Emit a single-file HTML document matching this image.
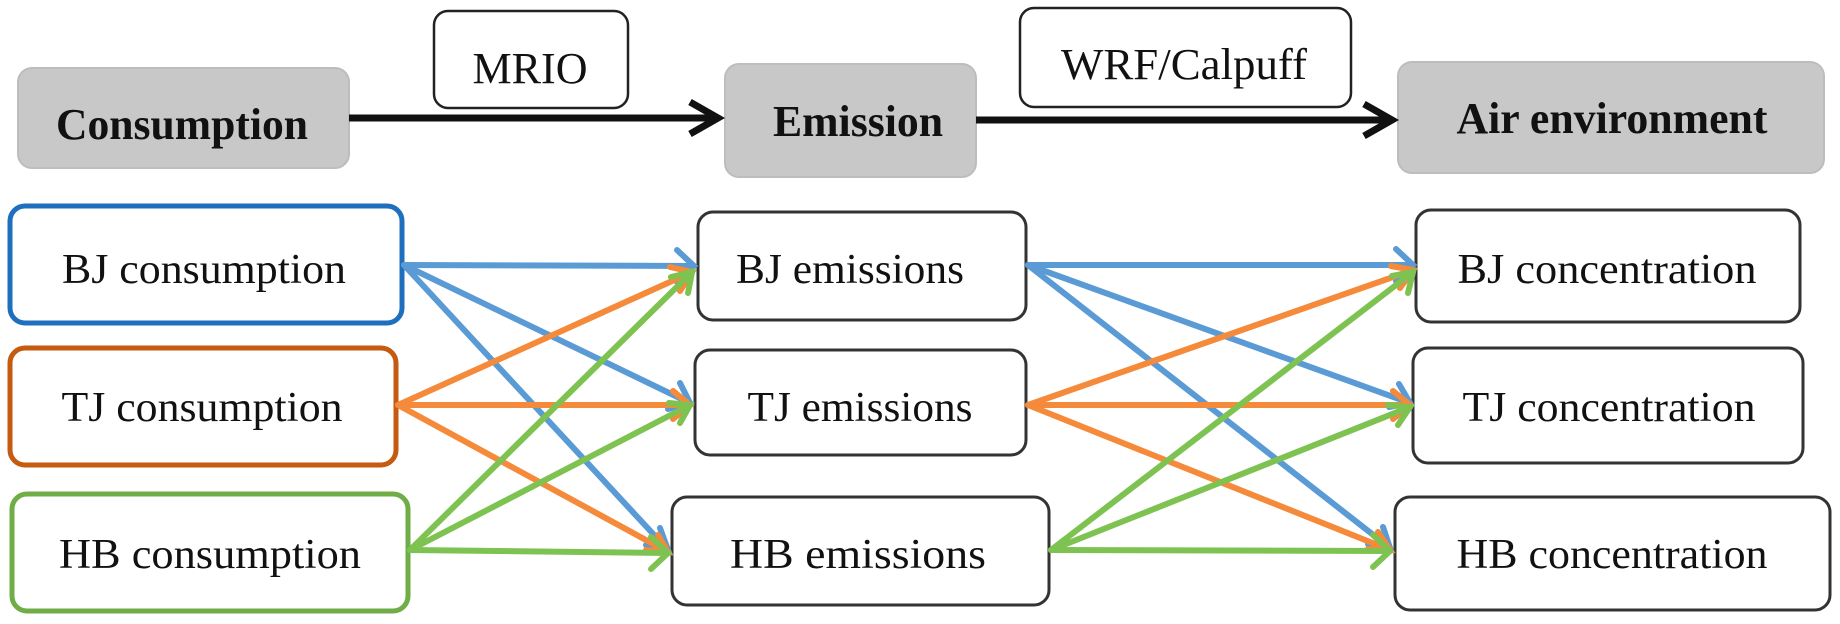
<!DOCTYPE html>
<html><head><style>
body{margin:0;background:#fff;}
svg text{font-family:"Liberation Serif",serif;}
</style></head><body>
<svg width="1840" height="619" viewBox="0 0 1840 619" xmlns="http://www.w3.org/2000/svg">
<g fill="#c8c8c8" stroke="#bdbdbd" stroke-width="2">
<rect x="18" y="68" width="331" height="100" rx="14"/>
<rect x="725" y="64" width="251" height="113" rx="14"/>
<rect x="1398" y="62" width="426" height="111" rx="14"/>
</g>
<g font-weight="bold" font-size="44" text-anchor="middle" fill="#111">
<text x="182" y="139" textLength="252" lengthAdjust="spacingAndGlyphs">Consumption</text>
<text x="858" y="136" textLength="170" lengthAdjust="spacingAndGlyphs">Emission</text>
<text x="1612" y="133" textLength="311" lengthAdjust="spacingAndGlyphs">Air environment</text>
</g>
<g fill="#fff" stroke="#222" stroke-width="2.5">
<rect x="434" y="11" width="194" height="97" rx="14"/>
<rect x="1020" y="8" width="331" height="99" rx="14"/>
</g>
<g font-size="44" text-anchor="middle" fill="#111">
<text x="530" y="83" textLength="115" lengthAdjust="spacingAndGlyphs">MRIO</text>
<text x="1184" y="79" textLength="246" lengthAdjust="spacingAndGlyphs">WRF/Calpuff</text>
</g>
<g stroke="#111" stroke-width="7" fill="none">
<line x1="349" y1="118" x2="718" y2="118"/>
<path d="M690,102 L718,118 L690,134"/>
<line x1="976" y1="120" x2="1392" y2="120"/>
<path d="M1364,104 L1392,120 L1364,136"/>
</g>
<rect x="10" y="206" width="392" height="117" rx="15" fill="#fff" stroke="#1f6fbf" stroke-width="5"/>
<rect x="10" y="348" width="386" height="117" rx="15" fill="#fff" stroke="#c55a11" stroke-width="5"/>
<rect x="12" y="494" width="396" height="117" rx="15" fill="#fff" stroke="#70ad47" stroke-width="5"/>
<g fill="#fff" stroke="#333" stroke-width="3">
<rect x="698" y="212" width="328" height="108" rx="15"/>
<rect x="695" y="350" width="331" height="105" rx="15"/>
<rect x="672" y="497" width="377" height="108" rx="15"/>
<rect x="1416" y="210" width="384" height="112" rx="15"/>
<rect x="1413" y="348" width="390" height="115" rx="15"/>
<rect x="1395" y="497" width="435" height="113" rx="15"/>
</g>
<g font-size="42" text-anchor="middle" fill="#111">
<text x="204" y="283" textLength="284" lengthAdjust="spacingAndGlyphs">BJ consumption</text>
<text x="202" y="421" textLength="281" lengthAdjust="spacingAndGlyphs">TJ consumption</text>
<text x="210" y="568" textLength="302" lengthAdjust="spacingAndGlyphs">HB consumption</text>
<text x="850" y="283" textLength="228" lengthAdjust="spacingAndGlyphs">BJ emissions</text>
<text x="860" y="421" textLength="225" lengthAdjust="spacingAndGlyphs">TJ emissions</text>
<text x="858" y="568" textLength="256" lengthAdjust="spacingAndGlyphs">HB emissions</text>
<text x="1607" y="283" textLength="299" lengthAdjust="spacingAndGlyphs">BJ concentration</text>
<text x="1609" y="421" textLength="293" lengthAdjust="spacingAndGlyphs">TJ concentration</text>
<text x="1612" y="568" textLength="311" lengthAdjust="spacingAndGlyphs">HB concentration</text>
</g>
<g fill="none" stroke-width="6" stroke-linecap="round">
<g stroke="#5b9bd5">
<line x1="404" y1="265" x2="694" y2="266"/>
<line x1="404" y1="265" x2="690" y2="403"/>
<line x1="404" y1="265" x2="668" y2="550"/>
<path d="M677,250 L694,266 L677,282"/>
<path d="M680,383 L690,403 L668,409"/>
<path d="M660,528 L668,550 L646,545"/>
</g>
<g stroke="#f58a3a">
<line x1="398" y1="405" x2="692" y2="272"/>
<line x1="398" y1="405" x2="690" y2="405"/>
<line x1="398" y1="405" x2="668" y2="552"/>
<path d="M670,267 L692,272 L680,291"/>
<path d="M673,391 L690,405 L673,419"/>
<path d="M646,550 L668,552 L658,535"/>
</g>
<g stroke="#7ec352">
<line x1="410" y1="550" x2="692" y2="272"/>
<line x1="410" y1="550" x2="690" y2="405"/>
<line x1="410" y1="550" x2="668" y2="553"/>
<path d="M671,277 L692,272 L688,293"/>
<path d="M669,403 L690,405 L680,423"/>
<path d="M651,537 L668,553 L651,569"/>
</g>
<g stroke="#5b9bd5">
<line x1="1028" y1="265" x2="1413" y2="265"/>
<line x1="1028" y1="265" x2="1410" y2="403"/>
<line x1="1028" y1="265" x2="1390" y2="548"/>
<path d="M1396,249 L1413,265 L1396,281"/>
<path d="M1399,384 L1410,403 L1389,407"/>
<path d="M1383,527 L1390,548 L1368,544"/>
</g>
<g stroke="#f58a3a">
<line x1="1028" y1="405" x2="1413" y2="270"/>
<line x1="1028" y1="405" x2="1410" y2="405"/>
<line x1="1028" y1="405" x2="1390" y2="550"/>
<path d="M1391,266 L1413,270 L1400,288"/>
<path d="M1393,391 L1410,405 L1393,419"/>
<path d="M1368,549 L1390,550 L1378,532"/>
</g>
<g stroke="#7ec352">
<line x1="1051" y1="550" x2="1413" y2="272"/>
<line x1="1051" y1="550" x2="1410" y2="407"/>
<line x1="1051" y1="550" x2="1390" y2="551"/>
<path d="M1392,276 L1413,272 L1408,293"/>
<path d="M1388,405 L1410,407 L1398,425"/>
<path d="M1373,535 L1390,551 L1373,567"/>
</g>
</g>
</svg>
</body></html>
